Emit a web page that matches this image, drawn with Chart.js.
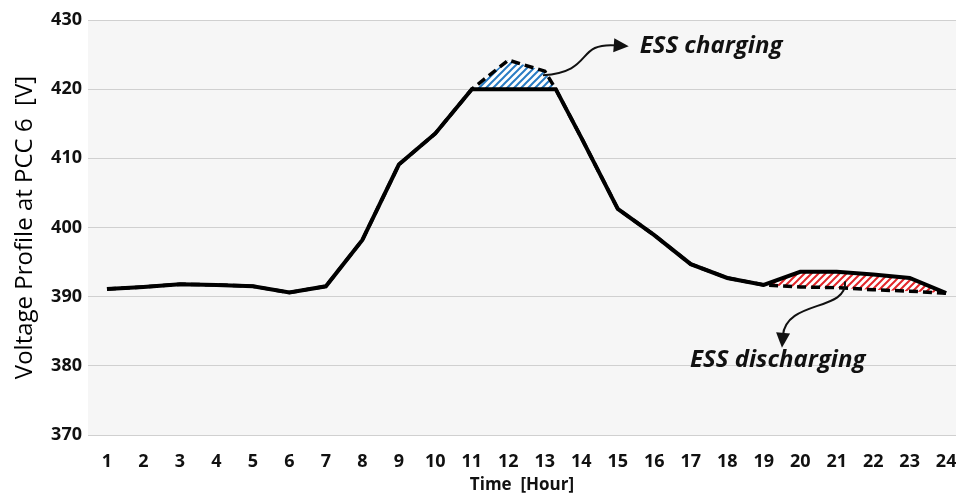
<!DOCTYPE html>
<html>
<head>
<meta charset="utf-8">
<script src="https://cdn.jsdelivr.net/npm/chart.js@4.4.1/dist/chart.umd.min.js"></script>
<style>
  html, body { margin: 0; padding: 0; background: #fff; }
  #wrap { width: 956px; height: 495px; }
</style>
</head>
<body>
<div id="wrap"><canvas id="voltChart"></canvas></div>
<script>
// hours (13.3 = point where the no-ESS curve comes back to the 420 V limit)
const hours = [1, 2, 3, 4, 5, 6, 7, 8, 9, 10, 11, 12, 13, 13.3, 14, 15, 16, 17, 18, 19, 20, 21, 22, 23, 24];
const voltWithoutEss = [391.1, 391.4, 391.8, 391.7, 391.5, 390.6, 391.5, 398.2, 409.1, 413.6, 420.0, 424.2, 422.6, 420.0, 413.0, 402.7, 398.9, 394.7, 392.7, 391.7, 391.4, 391.3, 391.0, 390.8, 390.5];
const voltWithEss    = [391.1, 391.4, 391.8, 391.7, 391.5, 390.6, 391.5, 398.2, 409.1, 413.6, 420.0, 420.0, 420.0, 420.0, 413.0, 402.7, 398.9, 394.7, 392.7, 391.7, 393.6, 393.6, 393.2, 392.7, 390.5];
const hourTicks = [1, 2, 3, 4, 5, 6, 7, 8, 9, 10, 11, 12, 13, 14, 15, 16, 17, 18, 19, 20, 21, 22, 23, 24];
const voltTicks = [370, 380, 390, 400, 410, 420, 430];

function hatch(color) {
    const c = document.createElement('canvas');
    c.width = 7; c.height = 7;
    const g = c.getContext('2d');
    g.fillStyle = '#ffffff';
    g.fillRect(0, 0, 7, 7);
    g.strokeStyle = color;
    g.lineWidth = 2;
    g.beginPath();
    g.moveTo(-1, 8); g.lineTo(8, -1);
    g.moveTo(-8, 8); g.lineTo(1, -1);
    g.moveTo(6, 8); g.lineTo(15, -1);
    g.stroke();
    return g.createPattern(c, 'repeat');
}

// light gray plot area
const plotBg = {
    id: 'plotBg',
    beforeDraw(chart) {
        const { ctx, chartArea: a } = chart;
        ctx.save();
        ctx.fillStyle = '#f6f6f6';
        ctx.fillRect(a.left, a.top, a.right - a.left, a.bottom - a.top);
        ctx.restore();
    }
};

// curved arrow: bezier body, filled triangular head with tip at the end point
function arrow(ctx, pts) {
    const [s, c1, c2, e] = pts;
    const ang = Math.atan2(e[1] - c2[1], e[0] - c2[0]);
    const L = 15, W = 7;
    const bx = e[0] - Math.cos(ang) * L, by = e[1] - Math.sin(ang) * L;
    ctx.beginPath();
    ctx.moveTo(s[0], s[1]);
    ctx.bezierCurveTo(c1[0], c1[1], c2[0], c2[1], bx + Math.cos(ang) * 3, by + Math.sin(ang) * 3);
    ctx.stroke();
    ctx.beginPath();
    ctx.moveTo(e[0], e[1]);
    ctx.lineTo(bx + Math.sin(ang) * W, by - Math.cos(ang) * W);
    ctx.lineTo(bx - Math.sin(ang) * W, by + Math.cos(ang) * W);
    ctx.closePath();
    ctx.fill();
}

const notes = {
    id: 'notes',
    afterDatasetsDraw(chart) {
        const { ctx, scales: { x, y } } = chart;
        const P = (h, v) => [x.getPixelForValue(h), y.getPixelForValue(v)];
        ctx.save();
        ctx.strokeStyle = '#111';
        ctx.fillStyle = '#111';
        ctx.lineWidth = 2;
        arrow(ctx, [P(12.95, 422.0), P(14.4, 422.6), P(13.8, 426.8), P(15.3, 426.2)]);
        arrow(ctx, [P(21.23, 392.2), P(21.3, 387.8), P(19.6, 389.6), P(19.5, 382.6)]);
        ctx.font = 'italic bold 24px "Open Sans"';
        ctx.textBaseline = 'middle';
        ctx.fillText('ESS charging', ...P(15.6, 426.2));
        ctx.fillText('ESS discharging', ...P(16.98, 380.8));
        ctx.restore();
    }
};

window.onload = function () {
    const ctx = document.getElementById('voltChart').getContext('2d');
    new Chart(ctx, {
        type: 'line',
        data: {
            datasets: [{
                label: 'With ESS',
                data: hours.map((h, i) => ({ x: h, y: voltWithEss[i] })),
                borderColor: '#000',
                borderWidth: 4,
                pointRadius: 0,
                tension: 0,
                fill: false
            }, {
                label: 'Without ESS',
                data: hours.map((h, i) => ({ x: h, y: voltWithoutEss[i] })),
                borderColor: '#000',
                borderWidth: 3.5,
                borderDash: [9, 5],
                pointRadius: 0,
                tension: 0,
                fill: { target: 0, above: hatch('#2a7cc4'), below: hatch('#e3262a') }
            }]
        },
        options: {
            responsive: true,
            maintainAspectRatio: false,
            animation: false,
            layout: { padding: { top: 0, right: 0, left: 4, bottom: 0 } },
            plugins: { legend: { display: false }, tooltip: { enabled: false } },
            scales: {
                x: {
                    type: 'linear',
                    min: 0.48,
                    max: 24.27,
                    afterBuildTicks: axis => { axis.ticks = hourTicks.map(v => ({ value: v })); },
                    afterFit: axis => { axis.height = 60; axis.paddingLeft = 0; axis.paddingRight = 0; },
                    grid: { display: false },
                    border: { display: false },
                    ticks: { color: '#111', font: { family: '"Open Sans"', size: 18, weight: 'bold' }, maxRotation: 0, autoSkip: false, padding: 8 },
                    title: { display: true, text: 'Time  [Hour]', color: '#111', font: { family: '"Open Sans"', size: 17, weight: 'bold' }, padding: { top: 0, bottom: 0 } }
                },
                y: {
                    min: 370,
                    max: 430,
                    afterBuildTicks: axis => { axis.ticks = voltTicks.map(v => ({ value: v })); },
                    afterFit: axis => { axis.width = 84; axis.paddingTop = 20; axis.paddingBottom = 0; },
                    grid: { color: '#d0d0d0', lineWidth: 1, borderDash: [1, 2], drawTicks: false },
                    border: { display: false },
                    ticks: { color: '#111', font: { family: '"Open Sans"', size: 18, weight: 'bold' }, padding: 6 },
                    title: { display: true, text: 'Voltage Profile at PCC 6  [V]', color: '#000', font: { family: '"Open Sans"', size: 24, weight: '500' }, padding: { top: 7, bottom: 0 } }
                }
            }
        },
        plugins: [plotBg, notes]
    });
};
</script>
</body>
</html>
